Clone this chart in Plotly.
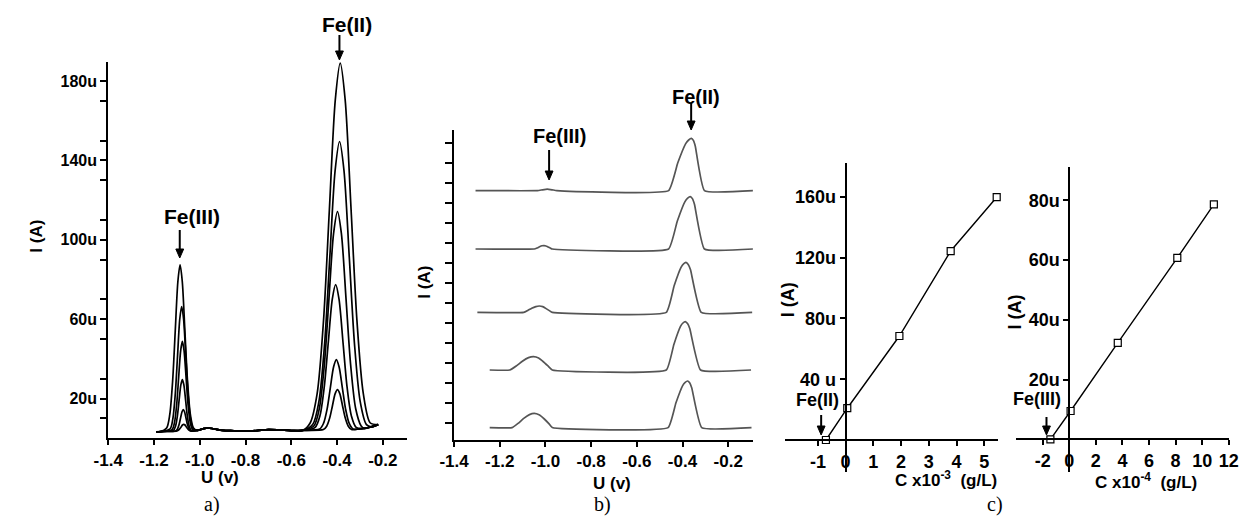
import plotly.graph_objects as go

# The page body has an 8 px margin: the figure is sized so the page fits the window.
PAGE_W, PAGE_H = 1247, 526
OFF = 8
W, H = PAGE_W - 2 * OFF, PAGE_H - 2 * OFF

# ---------------- panel a) data ----------------
A_XTICKS = [-1.4, -1.2, -1.0, -0.8, -0.6, -0.4, -0.2]
A_XTICKTEXT = ["-1.4", "-1.2", "-1.0", "-0.8", "-0.6", "-0.4", "-0.2"]
A_YTICKS = [20, 60, 100, 140, 180]
A_YTICKTEXT = ["20u", "60u", "100u", "140u", "180u"]
A_YMINOR = [10, 30, 50, 70, 90, 110, 130, 150, 170]

a_base_left_x = [-1.19, -1.17]
a_base_left_y = [3.2, 3.4]
a_base_mid_x = [-1.01, -0.985, -0.965, -0.94, -0.90, -0.85, -0.80, -0.75, -0.70, -0.65, -0.60, -0.55]
a_base_mid_y = [4.0, 4.8, 5.2, 4.8, 4.0, 3.8, 3.6, 3.9, 4.4, 4.2, 3.9, 4.0]
a_base_right_x = [-0.31, -0.28, -0.25, -0.22]
a_base_right_y = [4.6, 5.0, 5.8, 6.9]

a_fe3_x = [
    [-1.1447, -1.1311, -1.1186, -1.1072, -1.0956, -1.086, -1.0764, -1.0648, -1.0534, -1.0409, -1.0273],
    [-1.1293, -1.1176, -1.1069, -1.0972, -1.0873, -1.079, -1.0707, -1.0608, -1.0511, -1.0404, -1.0287],
    [-1.1208, -1.1103, -1.1008, -1.0922, -1.0833, -1.076, -1.0687, -1.0598, -1.0512, -1.0417, -1.0312],
    [-1.1152, -1.1060, -1.0977, -1.0902, -1.0824, -1.076, -1.0696, -1.0618, -1.0543, -1.0460, -1.0368],
    [-1.1056, -1.0978, -1.0906, -1.0841, -1.0775, -1.072, -1.0665, -1.0599, -1.0534, -1.0462, -1.0384],
    [-1.1036, -1.0958, -1.0886, -1.0821, -1.0755, -1.070, -1.0645, -1.0579, -1.0514, -1.0442, -1.0364],
]
a_fe3_y = [
    [5.2, 11.9, 28.7, 53.8, 79.0, 87.4, 79.0, 53.8, 28.7, 11.9, 5.2],
    [4.8, 9.8, 22.4, 41.2, 60.1, 66.4, 60.1, 41.2, 22.4, 9.8, 4.8],
    [4.4, 8.0, 17.1, 30.7, 44.3, 48.8, 44.3, 30.7, 17.1, 8.0, 4.4],
    [4.0, 6.1, 11.3, 19.2, 27.0, 29.6, 27.0, 19.2, 11.3, 6.1, 4.0],
    [3.7, 4.6, 6.8, 10.1, 13.4, 14.5, 13.4, 10.1, 6.8, 4.6, 3.7],
    [3.6, 3.9, 4.6, 5.6, 6.7, 7.0, 6.7, 5.6, 4.6, 3.9, 3.6],
]
a_fe2_x = [
    [-0.5175, -0.4869, -0.4589, -0.4335, -0.4076, -0.386, -0.3644, -0.3385, -0.3131, -0.2851, -0.2545],
    [-0.5065, -0.4791, -0.4542, -0.4315, -0.4083, -0.389, -0.3697, -0.3465, -0.3238, -0.2989, -0.2715],
    [-0.5015, -0.4774, -0.4554, -0.4354, -0.4150, -0.398, -0.3810, -0.3606, -0.3406, -0.3186, -0.2945],
    [-0.4955, -0.4747, -0.4557, -0.4384, -0.4207, -0.406, -0.3913, -0.3736, -0.3563, -0.3373, -0.3165],
    [-0.4757, -0.4588, -0.4434, -0.4293, -0.4149, -0.403, -0.3911, -0.3767, -0.3626, -0.3472, -0.3303],
    [-0.4595, -0.4452, -0.4321, -0.4202, -0.4081, -0.398, -0.3879, -0.3758, -0.3639, -0.3508, -0.3365],
]
a_fe2_y = [
    [7.7, 22.5, 59.5, 115.0, 170.5, 189.0, 170.5, 115.0, 59.5, 22.5, 7.7],
    [6.9, 18.6, 47.7, 91.3, 135.0, 149.5, 135.0, 91.3, 47.7, 18.6, 6.9],
    [6.2, 15.0, 37.1, 70.1, 103.2, 114.2, 103.2, 70.1, 37.1, 15.0, 6.2],
    [5.5, 11.3, 26.0, 48.0, 70.1, 77.4, 70.1, 48.0, 26.0, 11.3, 5.5],
    [4.7, 7.6, 14.7, 25.4, 36.0, 39.6, 36.0, 25.4, 14.7, 7.6, 4.7],
    [4.4, 6.1, 10.2, 16.3, 22.5, 24.5, 22.5, 16.3, 10.2, 6.1, 4.4],
]

# ---------------- panel b) data ----------------
B_YTICKS = list(range(1, 16))
b_curves_x = [
    [-1.306, -1.035, -1.013, -0.992, -0.971, -0.95,
     -0.461, -0.421, -0.386, -0.373, -0.361, -0.3525, -0.344, -0.304, -0.09],
    [-1.306, -1.049, -1.037, -1.026, -1.015, -1.006, -0.997, -0.988, -0.979, -0.970,
     -0.461, -0.423, -0.3898, -0.3774, -0.366, -0.3567, -0.3474, -0.304, -0.09],
    [-1.298, -1.095, -1.077, -1.060, -1.042, -1.027, -1.012, -0.997, -0.983, -0.970,
     -0.471, -0.4366, -0.4065, -0.3953, -0.385, -0.375, -0.3649, -0.318, -0.095],
    [-1.244, -1.156, -1.128, -1.101, -1.074, -1.052, -1.030, -1.008, -0.988, -0.970,
     -0.471, -0.4378, -0.4088, -0.398, -0.388, -0.378, -0.3679, -0.321, -0.10],
    [-1.244, -1.146, -1.120, -1.095, -1.070, -1.049, -1.028, -1.005, -0.985, -0.970,
     -0.463, -0.429, -0.3993, -0.3882, -0.378, -0.3687, -0.3594, -0.316, -0.098],
]
b_curves_y = [
    [12.62, 12.62, 12.66, 12.69, 12.66, 12.62,
     12.62, 14.00, 14.97, 15.15, 15.23, 15.13, 14.84, 12.62, 12.62],
    [9.70, 9.70, 9.75, 9.81, 9.86, 9.87, 9.85, 9.80, 9.75, 9.70,
     9.70, 11.09, 12.06, 12.24, 12.32, 12.22, 11.93, 9.70, 9.70],
    [6.53, 6.53, 6.63, 6.74, 6.82, 6.85, 6.82, 6.72, 6.62, 6.53,
     6.53, 7.86, 8.78, 8.96, 9.03, 8.93, 8.66, 6.53, 6.53],
    [3.65, 3.65, 3.85, 4.09, 4.27, 4.32, 4.25, 4.05, 3.84, 3.65,
     3.65, 4.93, 5.83, 6.00, 6.07, 5.97, 5.71, 3.65, 3.65],
    [0.77, 0.77, 0.98, 1.23, 1.42, 1.48, 1.41, 1.20, 0.97, 0.77,
     0.77, 2.00, 2.87, 3.03, 3.10, 3.01, 2.75, 0.77, 0.77],
]

# ---------------- panel c) data ----------------
c1_x = [-0.71, 0.06, 1.94, 3.79, 5.45]
c1_y = [0.0, 20.9, 68.4, 124.3, 159.7]
C1_XTICKS = [-1, 0, 1, 2, 3, 4, 5]
C1_XTICKTEXT = ["-1", "0", "1", "2", "3", "4", "5"]
C1_YTICKS = [40, 80, 120, 160]
C1_YTICKTEXT = ["40 u", "80u", "120u", "160u"]

c2_x = [-1.42, 0.10, 3.65, 8.13, 10.88]
c2_y = [0.0, 9.5, 32.3, 60.7, 78.6]
C2_XTICKS = [-2, 0, 2, 4, 6, 8, 10, 12]
C2_XTICKTEXT = ["-2", "0", "2", "4", "6", "8", "10", "12"]
C2_YTICKS = [20, 40, 60, 80]
C2_YTICKTEXT = ["20u", "40u", "60u", "80u"]

# ---------------- layout helpers ----------------
def px_x(p):
    return (p - OFF) / W

def px_y(p):
    return 1 - (p - OFF) / H

SANS = "Liberation Sans, Arial, sans-serif"
SERIF = "Liberation Serif, Times New Roman, serif"

def tfont(size):
    return dict(family=SANS, size=size, color="black", weight="bold")

def axis_style(**kw):
    d = dict(showline=True, linecolor="black", linewidth=2, showgrid=False,
             zeroline=False, ticks="outside", tickcolor="black", tickwidth=1.5,
             ticklen=6, tickfont=tfont(17), mirror=False, ticklabeloverflow="allow")
    d.update(kw)
    return d

fig = go.Figure()

for i in range(len(a_fe2_x)):
    tail = [(x, y) for x, y in zip(a_base_right_x, a_base_right_y) if x > a_fe2_x[i][-1] + 0.01]
    xs = a_base_left_x + a_fe3_x[i] + a_base_mid_x + a_fe2_x[i] + [t[0] for t in tail]
    ys = a_base_left_y + a_fe3_y[i] + a_base_mid_y + a_fe2_y[i] + [t[1] for t in tail]
    fig.add_trace(go.Scatter(x=xs, y=ys, mode="lines",
                             line=dict(color="black", width=1.7, shape="spline", smoothing=0.8),
                             xaxis="x", yaxis="y", showlegend=False, hoverinfo="skip"))

for xs, ys in zip(b_curves_x, b_curves_y):
    fig.add_trace(go.Scatter(x=xs, y=ys, mode="lines",
                             line=dict(color="#555555", width=1.7, shape="spline", smoothing=0.35),
                             xaxis="x2", yaxis="y2", showlegend=False, hoverinfo="skip"))

for xs, ys, xa, ya in [(c1_x, c1_y, "x3", "y3"), (c2_x, c2_y, "x4", "y4")]:
    fig.add_trace(go.Scatter(x=xs, y=ys, mode="lines+markers",
                             line=dict(color="black", width=1.4),
                             marker=dict(symbol="square", size=7, color="white",
                                         line=dict(color="black", width=1.2)),
                             xaxis=xa, yaxis=ya, showlegend=False, hoverinfo="skip",
                             cliponaxis=False))

a_dx = [px_x(95), px_x(400)]
a_dy = [px_y(438.3), px_y(61.7)]
b_dx = [px_x(448), px_x(753)]
b_dy = [px_y(440), px_y(130)]
c1_dx = [px_x(785.4), px_x(1003.3)]
c1_dy = [px_y(472), px_y(163)]
c2_dx = [px_x(1021.7), 1.0]
c2_dy = [px_y(471.7), px_y(166.7)]

c1_xr = [-2.2, 5.5]
c1_yr = [-21.05, 182.2]
c2_xr = [-4.0, 12.02]
c2_yr = [-10.8, 91.2]

def zero_pos(dom, rng):
    return dom[0] + (0 - rng[0]) / (rng[1] - rng[0]) * (dom[1] - dom[0])

fig.update_layout(
    width=W, height=H, margin=dict(l=0, r=0, t=0, b=0),
    paper_bgcolor="white", plot_bgcolor="rgba(0,0,0,0)",
    showlegend=False,
    xaxis=axis_style(domain=a_dx, range=[-1.4, -0.094], anchor="y",
                     tickmode="array", tickvals=A_XTICKS, ticktext=A_XTICKTEXT, ticklen=5),
    yaxis=axis_style(domain=a_dy, range=[0, 189.7], anchor="x",
                     tickmode="array", tickvals=A_YTICKS, ticktext=A_YTICKTEXT,
                     tickfont=tfont(16),
                     minor=dict(tickmode="array", tickvals=A_YMINOR, ticks="outside",
                                ticklen=6, tickcolor="black", tickwidth=1.5)),
    xaxis2=axis_style(domain=b_dx, range=[-1.4, -0.092], anchor="y2",
                      tickmode="array", tickvals=A_XTICKS, ticktext=A_XTICKTEXT, ticklen=5),
    yaxis2=axis_style(domain=b_dy, range=[0.15, 15.65], anchor="x2",
                      tickmode="array", tickvals=B_YTICKS, showticklabels=False, ticklen=7),
    xaxis3=axis_style(domain=c1_dx, range=c1_xr, anchor="free",
                      position=zero_pos(c1_dy, c1_yr),
                      tickmode="array", tickvals=C1_XTICKS, ticktext=C1_XTICKTEXT,
                      tickfont=tfont(18), ticklen=5),
    yaxis3=axis_style(domain=c1_dy, range=c1_yr, anchor="free",
                      position=zero_pos(c1_dx, c1_xr),
                      tickmode="array", tickvals=C1_YTICKS, ticktext=C1_YTICKTEXT,
                      tickfont=tfont(18), ticklen=5),
    xaxis4=axis_style(domain=c2_dx, range=c2_xr, anchor="free",
                      position=zero_pos(c2_dy, c2_yr),
                      tickmode="array", tickvals=C2_XTICKS, ticktext=C2_XTICKTEXT,
                      tickfont=tfont(18), ticklen=5),
    yaxis4=axis_style(domain=c2_dy, range=c2_yr, anchor="free",
                      position=zero_pos(c2_dx, c2_xr),
                      tickmode="array", tickvals=C2_YTICKS, ticktext=C2_YTICKTEXT,
                      tickfont=tfont(18), ticklen=5),
)

texts = [
    ("Fe(II)", 339, 25, 21, 0, SANS, "bold"),
    ("Fe(III)", 180, 216, 21, 0, SANS, "bold"),
    ("I (A)", 22, 236, 17, -90, SANS, "bold"),
    ("U (v)", 209, 477, 17, 0, SANS, "bold"),
    ("Fe(II)", 695, 97, 20, 0, SANS, "bold"),
    ("Fe(III)", 556, 136, 20, 0, SANS, "bold"),
    ("I (A)", 417, 282, 17, -90, SANS, "bold"),
    ("U (v)", 609, 483, 17, 0, SANS, "bold"),
    ("I (A)", 789, 300, 18, -90, SANS, "bold"),
    ("Fe(II)", 819, 400, 18, 0, SANS, "bold"),
    ("C x10<sup>-3</sup>  (g/L)", 950, 479, 17, 0, SANS, "bold"),
    ("I (A)", 1021, 312, 18, -90, SANS, "bold"),
    ("Fe(III)", 1043, 399, 18, 0, SANS, "bold"),
    ("C x10<sup>-4</sup>  (g/L)", 1154, 481, 17, 0, SANS, "bold"),
]
for t, x, y, s, ang, fam, wt in texts:
    fig.add_annotation(text=t, x=px_x(x), y=px_y(y), xref="paper", yref="paper",
                       showarrow=False, xanchor="center", yanchor="middle", textangle=ang,
                       font=dict(family=fam, size=s, color="black", weight=wt))

for t, x in [("a)", 201), ("b)", 600), ("c)", 1000)]:
    fig.add_annotation(text=t, x=px_x(x), y=0, xref="paper", yref="paper",
                       showarrow=False, xanchor="center", yanchor="bottom",
                       font=dict(family=SERIF, size=20, color="black"))

# pointer arrows (x, tip y, length) drawn as a shaft plus a filled head
arrows = [
    (331, 60, 25),
    (168, 258, 28),
    (690, 130, 27),
    (545, 180, 30),
    (822.7, 435, 20),
    (1052.7, 435, 18),
]
HEAD_H, HEAD_W = 9, 8
for x, tip, length in arrows:
    fig.add_shape(type="line", xref="paper", yref="paper",
                  x0=px_x(x), x1=px_x(x), y0=px_y(tip - length), y1=px_y(tip - HEAD_H + 1),
                  line=dict(color="black", width=2))
    path = "M {:.5f},{:.5f} L {:.5f},{:.5f} L {:.5f},{:.5f} Z".format(
        px_x(x - HEAD_W / 2), px_y(tip - HEAD_H),
        px_x(x + HEAD_W / 2), px_y(tip - HEAD_H),
        px_x(x), px_y(tip))
    fig.add_shape(type="path", xref="paper", yref="paper", path=path,
                  fillcolor="black", line=dict(color="black", width=1))

fig.write_html("out.html")
